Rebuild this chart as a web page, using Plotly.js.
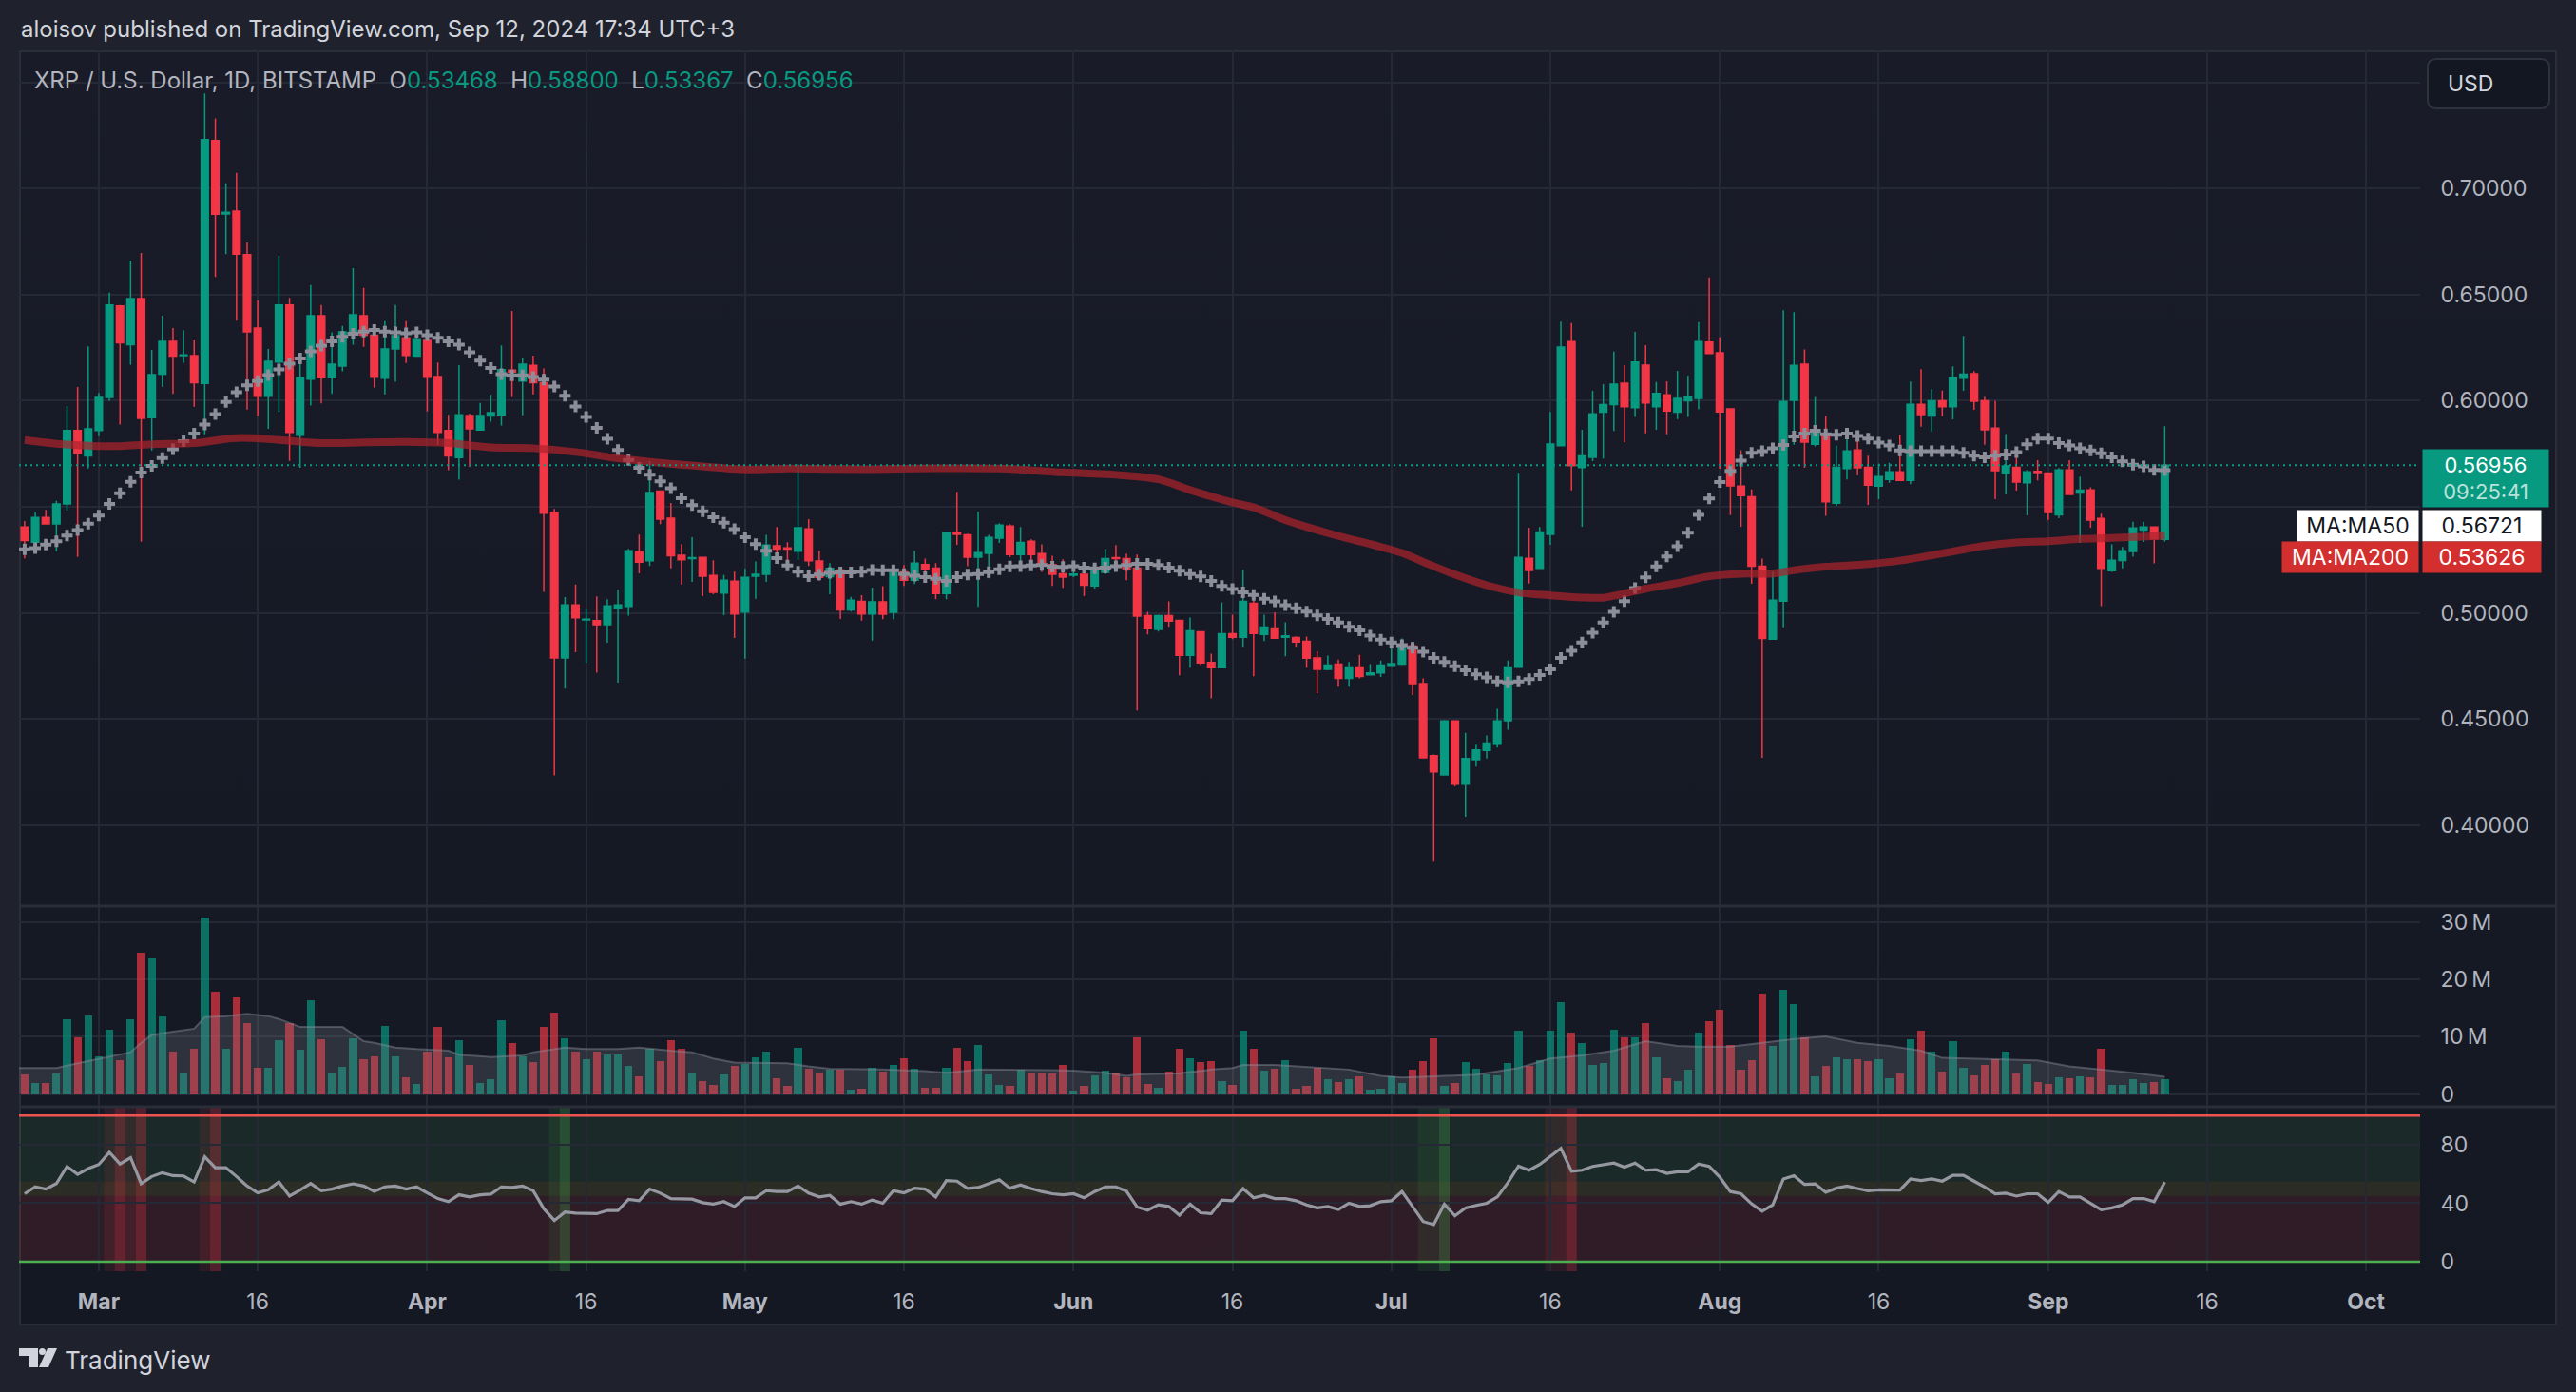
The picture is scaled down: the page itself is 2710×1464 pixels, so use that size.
<!DOCTYPE html>
<html><head><meta charset="utf-8">
<script src="https://cdn.plot.ly/plotly-3.0.1.min.js"></script>
<style>
html,body{margin:0;padding:0;background:#1f222c;width:2710px;height:1464px;overflow:hidden;}
#frame{position:absolute;left:20px;top:53px;width:2670px;height:1341px;box-sizing:border-box;border:2px solid #2a2e39;background:linear-gradient(180deg,#191c28 0%,#141823 100%);}
#chart{position:absolute;left:0;top:0;width:2710px;height:1464px;}
</style></head>
<body><div id="frame"></div><div id="chart"></div>
<script>
// ---------- DATA ----------
const startDate = [2024, 1, 23]; // Feb 23, 2024 (day 0)
const open = [0.5404,0.5333,0.5449,0.5419,0.5513,0.5860,0.5740,0.5860,0.6015,0.6447,0.6264,0.6481,0.5920,0.6125,0.6280,0.6212,0.6212,0.6081,0.7227,0.6880,0.6894,0.6689,0.6343,0.6021,0.6182,0.6451,0.5837,0.6102,0.6401,0.6108,0.6163,0.6324,0.6401,0.6309,0.6106,0.6244,0.6297,0.6210,0.6284,0.6114,0.5860,0.5732,0.5930,0.5862,0.5928,0.5934,0.6144,0.6093,0.6167,0.6085,0.5473,0.4787,0.5037,0.4966,0.4963,0.4944,0.5024,0.5030,0.5288,0.5245,0.5574,0.5446,0.5271,0.5255,0.5261,0.5176,0.5093,0.5149,0.5003,0.5173,0.5181,0.5316,0.5306,0.5290,0.5396,0.5244,0.5170,0.5202,0.5014,0.5054,0.4994,0.5051,0.5002,0.5193,0.5153,0.5228,0.5211,0.5091,0.5377,0.5368,0.5262,0.5280,0.5352,0.5409,0.5275,0.5337,0.5279,0.5228,0.5184,0.5177,0.5181,0.5127,0.5190,0.5260,0.5256,0.5211,0.4987,0.4921,0.4987,0.4964,0.4799,0.4910,0.4766,0.4741,0.4901,0.4885,0.5045,0.4898,0.4928,0.4885,0.4883,0.4865,0.4787,0.4733,0.4758,0.4691,0.4745,0.4708,0.4716,0.4752,0.4758,0.4844,0.4666,0.4326,0.4236,0.4490,0.4192,0.4307,0.4351,0.4380,0.4491,0.4743,0.5257,0.5209,0.5370,0.5788,0.6279,0.5685,0.5733,0.5946,0.5982,0.6082,0.5967,0.6168,0.5972,0.6028,0.5946,0.5999,0.6011,0.6276,0.6226,0.5961,0.5597,0.5547,0.5220,0.4876,0.5055,0.6002,0.6172,0.5794,0.5839,0.5517,0.5680,0.5768,0.5686,0.5597,0.5629,0.5664,0.5624,0.5983,0.5928,0.5999,0.5972,0.6106,0.6127,0.6000,0.5871,0.5658,0.5686,0.5613,0.5667,0.5659,0.5462,0.5674,0.5565,0.5579,0.5445,0.5198,0.5246,0.5289,0.5390,0.5405,0.53468];
const high = [0.5432,0.5475,0.5485,0.5528,0.5975,0.6064,0.6256,0.6036,0.6509,0.6451,0.6661,0.6697,0.6239,0.6401,0.6343,0.6332,0.6284,0.7449,0.7331,0.7025,0.7074,0.6746,0.6473,0.6244,0.6684,0.6485,0.6186,0.6545,0.6451,0.6322,0.6352,0.6625,0.6532,0.6343,0.6375,0.6451,0.6375,0.6301,0.6332,0.6180,0.5934,0.6168,0.5939,0.5989,0.6029,0.6261,0.6423,0.6204,0.6213,0.6152,0.5490,0.5074,0.5133,0.5019,0.5077,0.5064,0.5109,0.5301,0.5369,0.5715,0.5577,0.5518,0.5324,0.5356,0.5261,0.5248,0.5178,0.5194,0.5208,0.5242,0.5367,0.5405,0.5333,0.5702,0.5441,0.5293,0.5234,0.5216,0.5075,0.5083,0.5119,0.5126,0.5198,0.5225,0.5292,0.5256,0.5234,0.5377,0.5570,0.5373,0.5476,0.5368,0.5422,0.5418,0.5404,0.5346,0.5323,0.5269,0.5252,0.5216,0.5202,0.5225,0.5301,0.5319,0.5279,0.5274,0.5005,0.4991,0.5054,0.4964,0.4978,0.4910,0.4807,0.5049,0.4991,0.5202,0.5091,0.4991,0.5002,0.4955,0.4889,0.4888,0.4819,0.4798,0.4779,0.4768,0.4802,0.4758,0.4775,0.4835,0.4879,0.4862,0.4691,0.4332,0.4495,0.4490,0.4434,0.4378,0.4422,0.4547,0.4775,0.5660,0.5401,0.5404,0.5947,0.6373,0.6366,0.5863,0.6047,0.6078,0.6231,0.6168,0.6325,0.6262,0.6088,0.6091,0.6141,0.6118,0.6370,0.6581,0.6299,0.5961,0.5767,0.5582,0.5256,0.5193,0.6426,0.6418,0.6242,0.6018,0.5928,0.5789,0.5826,0.5829,0.5741,0.5704,0.5707,0.5839,0.6090,0.6149,0.6055,0.6048,0.6162,0.6306,0.6140,0.6018,0.6000,0.5843,0.5767,0.5672,0.5719,0.5659,0.5682,0.5719,0.5642,0.5592,0.5467,0.5323,0.5310,0.5429,0.5429,0.5405,0.58800];
const low = [0.5257,0.5305,0.5419,0.5290,0.5483,0.5263,0.5680,0.5833,0.5998,0.5888,0.6170,0.5335,0.5765,0.6066,0.6032,0.6178,0.5972,0.5841,0.6583,0.6691,0.6377,0.5958,0.5928,0.5867,0.5947,0.5716,0.5684,0.5977,0.5987,0.6032,0.6138,0.6264,0.6254,0.6062,0.6030,0.6089,0.6178,0.6210,0.5949,0.5792,0.5672,0.5627,0.5688,0.5859,0.5901,0.5883,0.6018,0.5931,0.6030,0.5099,0.4234,0.4642,0.4814,0.4763,0.4718,0.4859,0.4670,0.4987,0.5186,0.5221,0.5418,0.5210,0.5133,0.5146,0.5078,0.5087,0.4989,0.4881,0.4784,0.5066,0.5146,0.5279,0.5247,0.5250,0.5221,0.5151,0.5087,0.4971,0.5006,0.4963,0.4869,0.4970,0.4970,0.5127,0.5136,0.5189,0.5064,0.5064,0.5320,0.5220,0.5028,0.5163,0.5329,0.5262,0.5229,0.5206,0.5193,0.5127,0.5118,0.5168,0.5078,0.5114,0.5181,0.5240,0.5154,0.4539,0.4898,0.4912,0.4934,0.4705,0.4741,0.4754,0.4597,0.4741,0.4876,0.4840,0.4701,0.4867,0.4880,0.4795,0.4840,0.4741,0.4620,0.4729,0.4652,0.4652,0.4691,0.4708,0.4697,0.4752,0.4754,0.4612,0.4317,0.3827,0.4236,0.4182,0.4038,0.4275,0.4313,0.4365,0.4449,0.4743,0.5138,0.5209,0.5320,0.5788,0.5577,0.5406,0.5715,0.5727,0.5857,0.5804,0.5923,0.5846,0.5863,0.5842,0.5913,0.5923,0.5959,0.6222,0.5679,0.5460,0.5406,0.5137,0.4317,0.4876,0.4932,0.5792,0.5683,0.5784,0.5457,0.5504,0.5629,0.5648,0.5509,0.5536,0.5613,0.5624,0.5606,0.5877,0.5855,0.5927,0.5912,0.6047,0.5957,0.5792,0.5536,0.5558,0.5576,0.5459,0.5624,0.5438,0.5446,0.5558,0.5329,0.5401,0.5031,0.5193,0.5209,0.5265,0.5334,0.5233,0.53367];
const close = [0.5341,0.5449,0.5419,0.5513,0.5860,0.5752,0.5867,0.6015,0.6451,0.6273,0.6481,0.5917,0.6123,0.6280,0.6210,0.6216,0.6085,0.7231,0.6879,0.6888,0.6691,0.6324,0.6021,0.6186,0.6451,0.5850,0.6108,0.6401,0.6108,0.6172,0.6324,0.6405,0.6309,0.6110,0.6244,0.6307,0.6214,0.6288,0.6110,0.5850,0.5740,0.5934,0.5867,0.5930,0.5944,0.6146,0.6135,0.6172,0.6085,0.5470,0.4787,0.5037,0.4976,0.4970,0.4944,0.5032,0.5037,0.5293,0.5239,0.5567,0.5442,0.5269,0.5250,0.5260,0.5173,0.5096,0.5154,0.4994,0.5167,0.5181,0.5319,0.5300,0.5300,0.5401,0.5245,0.5167,0.5210,0.5014,0.5059,0.4994,0.5051,0.4993,0.5190,0.5153,0.5234,0.5206,0.5091,0.5377,0.5370,0.5262,0.5283,0.5355,0.5413,0.5275,0.5332,0.5274,0.5226,0.5181,0.5168,0.5183,0.5130,0.5198,0.5256,0.5255,0.5206,0.4984,0.4925,0.4987,0.4961,0.4799,0.4915,0.4763,0.4741,0.4901,0.4885,0.5054,0.4903,0.4933,0.4880,0.4891,0.4862,0.4786,0.4733,0.4754,0.4691,0.4745,0.4700,0.4716,0.4754,0.4760,0.4844,0.4666,0.4317,0.4250,0.4490,0.4192,0.4313,0.4353,0.4386,0.4490,0.4745,0.5261,0.5199,0.5381,0.5796,0.6253,0.5694,0.5740,0.5938,0.5982,0.6078,0.5972,0.6182,0.5990,0.6034,0.5951,0.6011,0.6020,0.6279,0.6222,0.5947,0.5598,0.5552,0.5220,0.4879,0.5059,0.5996,0.6167,0.5805,0.5848,0.5523,0.5686,0.5763,0.5683,0.5602,0.5642,0.5664,0.5624,0.5983,0.5935,0.5999,0.5972,0.6108,0.6125,0.5997,0.5863,0.5670,0.5693,0.5616,0.5664,0.5661,0.5473,0.5674,0.5558,0.5578,0.5437,0.5209,0.5248,0.5292,0.5400,0.5405,0.5349,0.56956];
// volume in millions
const volume = [3.46,1.98,1.98,3.63,13.0,9.89,13.7,6.59,11.2,5.99,13.0,24.6,23.6,13.5,7.42,3.79,7.91,30.7,17.8,7.91,16.8,12.4,4.62,4.62,9.40,12.4,7.75,16.3,9.56,3.79,4.78,9.73,6.10,6.59,11.9,6.59,2.97,1.81,7.47,11.7,6.43,9.40,5.11,1.98,2.64,12.9,8.90,6.59,5.60,11.7,14.2,9.73,7.42,6.10,7.42,6.92,6.92,4.95,3.13,7.91,5.77,9.40,7.91,3.79,2.31,1.65,3.46,4.95,5.27,6.43,7.42,2.80,1.48,8.08,4.45,3.79,4.29,4.29,0.82,0.99,4.62,3.96,5.11,6.26,4.45,1.15,1.15,4.62,8.08,5.77,8.57,3.46,1.65,1.48,4.29,3.79,3.79,3.63,5.11,0.66,1.48,3.30,4.12,3.79,2.97,9.89,1.81,1.15,3.96,7.91,6.26,5.60,5.77,2.31,1.65,11.0,7.91,4.12,4.45,5.93,0.99,1.48,4.62,2.64,2.14,2.64,3.13,0.82,0.99,3.13,1.98,4.29,5.77,9.73,1.48,1.98,5.60,4.45,3.46,3.30,5.44,11.0,4.95,5.93,11.0,16.0,10.7,8.90,5.11,5.44,11.2,9.89,9.89,12.4,6.43,2.80,2.31,4.29,10.7,12.7,14.7,8.57,4.29,5.93,17.5,8.41,18.1,15.7,9.89,3.13,4.95,6.43,6.10,6.10,5.77,6.10,2.80,3.63,9.56,11.0,7.42,3.96,9.23,4.62,3.30,5.11,6.10,7.42,3.63,5.27,2.14,1.81,2.97,2.80,3.13,2.97,7.91,1.65,1.65,2.64,1.98,2.14,2.64];
const ma50 = [0.5299,0.5305,0.5322,0.5337,0.5364,0.5390,0.5420,0.5458,0.5513,0.5564,0.5617,0.5661,0.5693,0.5729,0.5771,0.5809,0.5845,0.5888,0.5937,0.5994,0.6040,0.6072,0.6093,0.6121,0.6148,0.6174,0.6199,0.6233,0.6259,0.6280,0.6301,0.6316,0.6326,0.6333,0.6326,0.6322,0.6318,0.6322,0.6309,0.6297,0.6280,0.6264,0.6228,0.6189,0.6154,0.6125,0.6120,0.6120,0.6112,0.6099,0.6067,0.6023,0.5973,0.5923,0.5872,0.5820,0.5768,0.5720,0.5684,0.5651,0.5620,0.5587,0.5540,0.5508,0.5478,0.5450,0.5425,0.5394,0.5356,0.5324,0.5292,0.5258,0.5223,0.5194,0.5173,0.5180,0.5188,0.5191,0.5191,0.5194,0.5202,0.5201,0.5201,0.5183,0.5175,0.5168,0.5160,0.5150,0.5168,0.5180,0.5183,0.5192,0.5205,0.5219,0.5220,0.5223,0.5225,0.5217,0.5216,0.5220,0.5213,0.5210,0.5213,0.5220,0.5225,0.5231,0.5231,0.5225,0.5213,0.5198,0.5183,0.5171,0.5150,0.5127,0.5112,0.5096,0.5084,0.5066,0.5054,0.5036,0.5021,0.5006,0.4988,0.4971,0.4954,0.4934,0.4917,0.4892,0.4873,0.4860,0.4848,0.4835,0.4816,0.4787,0.4768,0.4748,0.4729,0.4710,0.4695,0.4676,0.4672,0.4676,0.4687,0.4706,0.4733,0.4787,0.4821,0.4860,0.4906,0.4954,0.5005,0.5055,0.5117,0.5167,0.5218,0.5266,0.5314,0.5378,0.5462,0.5539,0.5616,0.5669,0.5717,0.5754,0.5762,0.5775,0.5791,0.5832,0.5845,0.5858,0.5842,0.5839,0.5845,0.5834,0.5821,0.5802,0.5789,0.5765,0.5762,0.5762,0.5762,0.5762,0.5762,0.5754,0.5741,0.5733,0.5741,0.5746,0.5757,0.5794,0.5821,0.5821,0.5800,0.5789,0.5775,0.5765,0.5752,0.5733,0.5714,0.5698,0.5690,0.5674,0.56721];
const rsi = [46.5,51.2,49.7,53.5,65.2,59.8,63.7,66.5,74.8,66.9,71.2,53.5,58.3,60.9,58.9,58.7,54.6,71.8,64.3,64.3,58.3,51.8,47.1,49.2,54.6,44.9,49.0,53.5,48.6,49.7,51.8,53.3,51.8,48.2,51.2,51.8,49.7,51.2,47.1,43.2,41.1,45.8,44.3,45.8,46.2,51.2,50.8,51.8,48.6,36.3,28.2,34.0,33.3,32.9,32.9,35.1,35.1,42.6,41.7,49.7,46.9,43.2,43.2,42.8,40.4,39.4,41.1,37.8,43.7,43.7,48.6,48.0,48.0,51.8,46.9,44.3,45.4,39.4,41.1,39.4,42.2,40.0,48.6,47.1,50.3,49.7,44.3,55.5,55.1,50.1,50.8,53.5,56.1,50.3,52.5,50.1,48.0,46.5,45.8,46.5,43.7,48.0,51.2,51.2,48.2,37.4,35.3,38.9,37.8,31.8,39.4,33.5,32.9,42.2,41.7,50.1,43.7,45.4,43.2,43.2,41.7,38.9,36.8,37.8,35.7,40.0,37.8,38.3,41.1,41.7,48.0,37.8,27.5,25.4,39.4,31.4,36.8,38.5,40.0,44.3,54.0,65.4,62.6,66.5,72.3,77.6,61.9,62.6,65.2,66.2,67.5,64.7,67.5,62.6,63.0,60.4,61.5,61.5,66.9,65.2,57.8,48.0,46.5,39.6,34.6,38.9,56.6,58.9,52.9,53.3,47.5,50.3,51.8,50.1,48.6,49.2,49.2,49.0,56.6,55.5,56.6,55.1,59.1,59.1,55.1,51.2,46.5,46.9,44.9,46.5,46.5,40.6,48.0,44.3,44.3,40.0,35.5,36.8,38.9,43.2,43.2,41.1,54.4];
// MA200 and volume-MA read at sample days (day index from start)
const ma200Day = [0,4,8,12,16,20,24,28,32,36,40,44,48,52,56,60,64,68,72,76,80,86,92,98,104,107,110,114,116,119,121,124,127,130,132,135,138,141,144,147,149,150,153,156,159,162,165,167,170,174,177,182,185,188,191,194,197,202];
const ma200Val = [0.5815,0.5793,0.5785,0.5795,0.5800,0.5824,0.5815,0.5800,0.5803,0.5806,0.5800,0.5780,0.5776,0.5758,0.5728,0.5707,0.5690,0.5676,0.5680,0.5678,0.5677,0.5681,0.5680,0.5662,0.5647,0.5629,0.5579,0.5520,0.5497,0.5437,0.5405,0.5362,0.5324,0.5282,0.5240,0.5180,0.5130,0.5096,0.5082,0.5072,0.5071,0.5080,0.5113,0.5140,0.5172,0.5184,0.5185,0.5201,0.5217,0.5230,0.5246,0.5289,0.5316,0.5332,0.5337,0.5348,0.5353,0.53626];
const volMaDay = [-1,3,5,8,10,11,12,14,16,17,19,21,23,24,26,30,32,33,35,37,40,41,44,47,48,51,53,56,58,61,63,65,67,72,74,76,81,85,87,90,94,97,99,102,104,105,109,112,114,115,118,122,125,128,130,132,134,137,141,144,147,150,153,156,158,161,164,167,170,173,176,179,181,184,187,190,193,196,199,202];
const volMaVal = [4.56,4.56,5.38,6.48,7.31,8.96,10.3,10.9,11.4,13.4,13.6,14.0,13.6,13.1,11.7,11.7,9.23,8.96,8.13,7.86,7.58,6.87,6.48,6.76,7.31,8.13,7.86,7.86,8.13,7.58,7.31,6.21,5.5,5.38,4.84,4.45,4.29,4.01,3.74,4.29,4.29,4.18,4.12,3.74,3.19,3.46,3.63,4.29,4.56,5.11,5.11,4.67,4.29,3.19,2.91,3.02,3.19,3.4,4.56,6.21,6.76,7.58,9.23,8.41,8.30,8.30,8.96,9.62,10.05,8.96,8.41,7.58,6.32,6.21,6.04,5.88,4.84,4.29,3.74,3.02];
// RSI signal highlight days
const rsiHot = [9,11,18,146];
const rsiHotDim = [8,10,17,144,145];
const rsiCold = [51,134];
const rsiColdDim = [50,132,133];
// axis ticks and texts (0.55 and 0.75 labels are covered by the price/MA tags and the USD button)
const priceTicks = [0.40,0.45,0.50,0.55,0.60,0.65,0.70,0.75];
const coveredPriceTicks = [0.55,0.75];
const volTicks = [0,10,20,30];
const volTickText = ['0','10\u2009M','20\u2009M','30\u2009M'];
const rsiTicks = [0,40,80];
const timeTicks = ['2024-03-01','2024-03-16','2024-04-01','2024-04-16','2024-05-01','2024-05-16','2024-06-01','2024-06-16','2024-07-01','2024-07-16','2024-08-01','2024-08-16','2024-09-01','2024-09-16','2024-10-01'];
const timeTickText = ['Mar','16','Apr','16','May','16','Jun','16','Jul','16','Aug','16','Sep','16','Oct'];
const symbolText = 'XRP / U.S. Dollar, 1D, BITSTAMP';
const publishText = 'aloisov published on TradingView.com, Sep 12, 2024 17:34 UTC+3';
const countdownText = '09:25:41';
const currencyText = 'USD';
const brandText = 'TradingView';

// ---------- HELPERS ----------
const W = 2710, H = 1464;
const DAY = 86400000;
const t0 = Date.UTC(startDate[0], startDate[1], startDate[2]);
function dayDate(d){ return new Date(t0 + d*DAY).toISOString().slice(0,19).replace('T',' '); }
function px(v){ return v/W; }
function py(v){ return 1 - v/H; }
const dates = open.map((_, i) => dayDate(i));
const n = open.length;
const up = close.map((c, i) => c >= open[i]);

const GREEN = '#089981', RED = '#F23645';
const GRID = '#252935';
const TXT = '#b2b5be';
const FONT = 'Inter, Roboto, sans-serif';

// ---------- TRACES ----------
const traces = [];
traces.push({
  type:'scatter', mode:'markers', x:dates, y:ma50, xaxis:'x', yaxis:'y',
  marker:{symbol:'cross', size:10, color:'#8c8f99', line:{width:0}}, hoverinfo:'skip'
});
traces.push({
  type:'scatter', mode:'lines', x:ma200Day.map(dayDate), y:ma200Val, xaxis:'x', yaxis:'y',
  line:{color:'rgba(172,34,44,0.72)', width:8, shape:'spline', smoothing:1}, hoverinfo:'skip'
});
traces.push({
  type:'candlestick', x:dates, open:open, high:high, low:low, close:close, xaxis:'x', yaxis:'y',
  increasing:{line:{color:GREEN, width:1.5}, fillcolor:GREEN},
  decreasing:{line:{color:RED, width:1.5}, fillcolor:RED},
  whiskerwidth:0, hoverinfo:'skip'
});
traces.push({
  type:'bar', x:dates, y:volume, xaxis:'x2', yaxis:'y2', width:0.74*DAY,
  marker:{color:up.map(u => u ? 'rgba(8,153,129,0.68)' : 'rgba(242,54,69,0.68)'), line:{width:0}},
  hoverinfo:'skip'
});
traces.push({
  type:'scatter', mode:'lines', x:volMaDay.map(dayDate), y:volMaVal, xaxis:'x2', yaxis:'y2',
  fill:'tozeroy', fillcolor:'rgba(125,128,140,0.24)', line:{color:'rgba(140,143,155,0.45)', width:2}, hoverinfo:'skip'
});
traces.push({
  type:'scatter', mode:'lines', x:dates, y:rsi, xaxis:'x3', yaxis:'y3',
  line:{color:'#9598a1', width:3.2}, hoverinfo:'skip'
});

// ---------- SHAPES ----------
const shapes = [];
const xL = px(20), xR = px(2546);
// RSI zones
shapes.push({type:'rect', layer:'below', xref:'paper', yref:'y3', x0:xL, x1:xR, y0:55, y1:100, fillcolor:'rgba(76,175,80,0.12)', line:{width:0}});
shapes.push({type:'rect', layer:'below', xref:'paper', yref:'y3', x0:xL, x1:xR, y0:45, y1:55, fillcolor:'rgba(255,235,59,0.10)', line:{width:0}});
shapes.push({type:'rect', layer:'below', xref:'paper', yref:'y3', x0:xL, x1:xR, y0:0, y1:45, fillcolor:'rgba(242,54,69,0.12)', line:{width:0}});
function band(days, color){
  days.forEach(d => shapes.push({type:'rect', layer:'below', xref:'x3', yref:'y3 domain', x0:dayDate(d-0.5), x1:dayDate(d+0.5), y0:0, y1:1, fillcolor:color, line:{width:0}}));
}
band(rsiHotDim, 'rgba(242,54,69,0.10)');
band(rsiHot, 'rgba(242,54,69,0.28)');
band(rsiColdDim, 'rgba(76,175,80,0.10)');
band(rsiCold, 'rgba(76,175,80,0.28)');
shapes.push({type:'line', xref:'paper', yref:'y3', x0:xL, x1:xR, y0:100, y1:100, line:{color:'#ef5350', width:2.5}});
shapes.push({type:'line', xref:'paper', yref:'y3', x0:xL, x1:xR, y0:0, y1:0, line:{color:'#4caf50', width:2.5}});
// current price dotted line
shapes.push({type:'line', xref:'paper', yref:'y', x0:xL, x1:xR, y0:close[n-1], y1:close[n-1], line:{color:GREEN, width:2, dash:'2px,4px'}});
// pane separators
[953, 1164].forEach(yv => shapes.push({type:'line', xref:'paper', yref:'paper', x0:px(20), x1:px(2690), y0:py(yv), y1:py(yv), line:{color:'#2a2e39', width:3}}));
// USD box (rounded)
(function(){
  const x0=2554, x1=2682, y0=62, y1=114, r=9;
  const P=(x,y)=>px(x)+','+py(y);
  const path = 'M'+P(x0+r,y0)+' L'+P(x1-r,y0)+' Q'+P(x1,y0)+' '+P(x1,y0+r)+' L'+P(x1,y1-r)+' Q'+P(x1,y1)+' '+P(x1-r,y1)+
    ' L'+P(x0+r,y1)+' Q'+P(x0,y1)+' '+P(x0,y1-r)+' L'+P(x0,y0+r)+' Q'+P(x0,y0)+' '+P(x0+r,y0)+' Z';
  shapes.push({type:'path', xref:'paper', yref:'paper', path:path, fillcolor:'#131722', line:{color:'#2e323d', width:2}});
})();
// TradingView logo mark
(function(){
  const P=(x,y)=>px(x)+','+py(y);
  shapes.push({type:'path', xref:'paper', yref:'paper', path:'M'+P(20,1418)+' L'+P(40,1418)+' L'+P(40,1438)+' L'+P(31,1438)+' L'+P(31,1426)+' L'+P(20,1426)+' Z', fillcolor:'#d1d4dc', line:{width:0}});
  shapes.push({type:'circle', xref:'paper', yref:'paper', x0:px(41), x1:px(48), y0:py(1418), y1:py(1425), fillcolor:'#d1d4dc', line:{width:0}});
  shapes.push({type:'path', xref:'paper', yref:'paper', path:'M'+P(50,1418)+' L'+P(60,1418)+' L'+P(51,1438)+' L'+P(41,1438)+' Z', fillcolor:'#d1d4dc', line:{width:0}});
})();

// ---------- ANNOTATIONS ----------
const nb = s => s.replace(/ /g,'\u00a0');
const lastCol = up[n-1] ? GREEN : RED;
const f5 = v => v.toFixed(5);
const legendHtml = '<span style="color:#b2b5be">'+nb(symbolText)+'\u00a0\u00a0O</span><span style="color:'+lastCol+'">'+f5(open[n-1])+'</span>'+
  '<span style="color:#b2b5be">\u00a0\u00a0H</span><span style="color:'+lastCol+'">'+f5(high[n-1])+'</span>'+
  '<span style="color:#b2b5be">\u00a0\u00a0L</span><span style="color:'+lastCol+'">'+f5(low[n-1])+'</span>'+
  '<span style="color:#b2b5be">\u00a0\u00a0C</span><span style="color:'+lastCol+'">'+f5(close[n-1])+'</span>';
const annotations = [
  {xref:'paper', yref:'paper', x:px(20), y:py(31), xanchor:'left', yanchor:'middle', text:publishText, showarrow:false, font:{family:FONT, size:24, color:'#d1d4dc'}},
  {xref:'paper', yref:'paper', x:px(34), y:py(85), xanchor:'left', yanchor:'middle', text:legendHtml, showarrow:false, font:{family:FONT, size:24, color:TXT}},
  {xref:'paper', yref:'paper', x:px(2573), y:py(88), xanchor:'left', yanchor:'middle', text:currencyText, showarrow:false, font:{family:FONT, size:23, color:'#d1d4dc'}},
  {xref:'paper', yref:'paper', x:px(66), y:py(1430), xanchor:'left', yanchor:'middle', text:brandText, showarrow:false, font:{family:FONT, size:26, color:'#d1d4dc'}},
  // last price label
  {xref:'paper', yref:'y', x:px(2548), y:close[n-1], xanchor:'left', yanchor:'top', yshift:17, showarrow:false,
   text:f5(close[n-1])+'<br><span style="color:rgba(255,255,255,0.72)">'+countdownText+'</span>',
   bgcolor:GREEN, width:124, height:52, borderpad:4, align:'center', font:{family:FONT, size:22, color:'#ffffff'}},
  // MA50 labels
  {xref:'paper', yref:'paper', x:px(2545), y:py(553), xanchor:'right', yanchor:'middle', showarrow:false, text:'MA:MA50',
   bgcolor:'#ffffff', width:119, height:24, borderpad:4, font:{family:FONT, size:23, color:'#131722'}},
  {xref:'paper', yref:'paper', x:px(2548), y:py(553), xanchor:'left', yanchor:'middle', showarrow:false, text:f5(ma50[n-1]),
   bgcolor:'#ffffff', width:116, height:24, borderpad:4, font:{family:FONT, size:23, color:'#131722'}},
  // MA200 labels
  {xref:'paper', yref:'paper', x:px(2545), y:py(586), xanchor:'right', yanchor:'middle', showarrow:false, text:'MA:MA200',
   bgcolor:'#d32f2f', width:135, height:24, borderpad:4, font:{family:FONT, size:23, color:'#ffffff'}},
  {xref:'paper', yref:'paper', x:px(2548), y:py(586), xanchor:'left', yanchor:'middle', showarrow:false, text:f5(ma200Val[ma200Val.length-1]),
   bgcolor:'#d32f2f', width:116, height:24, borderpad:4, font:{family:FONT, size:23, color:'#ffffff'}}
];

// ---------- LAYOUT ----------
const xBase = {type:'date', domain:[xL, xR], tickvals:timeTicks, showgrid:true, gridcolor:GRID, gridwidth:2, zeroline:false, showline:false, fixedrange:true};
const layout = {
  width:W, height:H, margin:{l:0, r:0, t:0, b:0},
  paper_bgcolor:'rgba(0,0,0,0)', plot_bgcolor:'rgba(0,0,0,0)',
  showlegend:false, dragmode:false, hovermode:false,
  boxgap:0.32, boxgroupgap:0,
  bargap:0,
  font:{family:FONT, size:23, color:TXT},
  xaxis: Object.assign({}, xBase, {anchor:'y', range:[dayDate(-0.53), dayDate(226.1)], showticklabels:false, rangeslider:{visible:false}}),
  xaxis2: Object.assign({}, xBase, {anchor:'y2', matches:'x', showticklabels:false}),
  xaxis3: Object.assign({}, xBase, {anchor:'y3', matches:'x', showticklabels:true,
    ticktext:timeTickText.map(t => /^\d+$/.test(t) ? t : '<b>'+t+'</b>'),
    ticks:'outside', ticklen:11, tickcolor:'rgba(0,0,0,0)', tickfont:{family:FONT, size:23, color:TXT}}),
  yaxis: {domain:[py(953), py(53)], range:[0.36172, 0.76513], side:'right', anchor:'x',
    tickvals:priceTicks, ticktext:priceTicks.map(v => coveredPriceTicks.some(c => Math.abs(c - v) < 1e-9) ? '' : v.toFixed(5)),
    showgrid:true, gridcolor:GRID, gridwidth:2, zeroline:false, ticks:'outside', ticklen:16, tickcolor:'rgba(0,0,0,0)',
    tickfont:{family:FONT, size:23, color:TXT}, fixedrange:true},
  yaxis2: {domain:[py(1164), py(953)], range:[-2.19, 32.75], side:'right', anchor:'x2',
    tickvals:volTicks, ticktext:volTickText, showgrid:true, gridcolor:GRID, gridwidth:2, zeroline:false,
    ticks:'outside', ticklen:16, tickcolor:'rgba(0,0,0,0)', tickfont:{family:FONT, size:23, color:TXT}, fixedrange:true},
  yaxis3: {domain:[py(1337), py(1164)], range:[-6.5, 106], side:'right', anchor:'x3',
    tickvals:rsiTicks, ticktext:rsiTicks.map(String), showgrid:true, gridcolor:GRID, gridwidth:2, zeroline:false,
    ticks:'outside', ticklen:16, tickcolor:'rgba(0,0,0,0)', tickfont:{family:FONT, size:23, color:TXT}, fixedrange:true},
  shapes:shapes, annotations:annotations
};
Plotly.newPlot('chart', traces, layout, {displayModeBar:false, staticPlot:true});
</script></body></html>
